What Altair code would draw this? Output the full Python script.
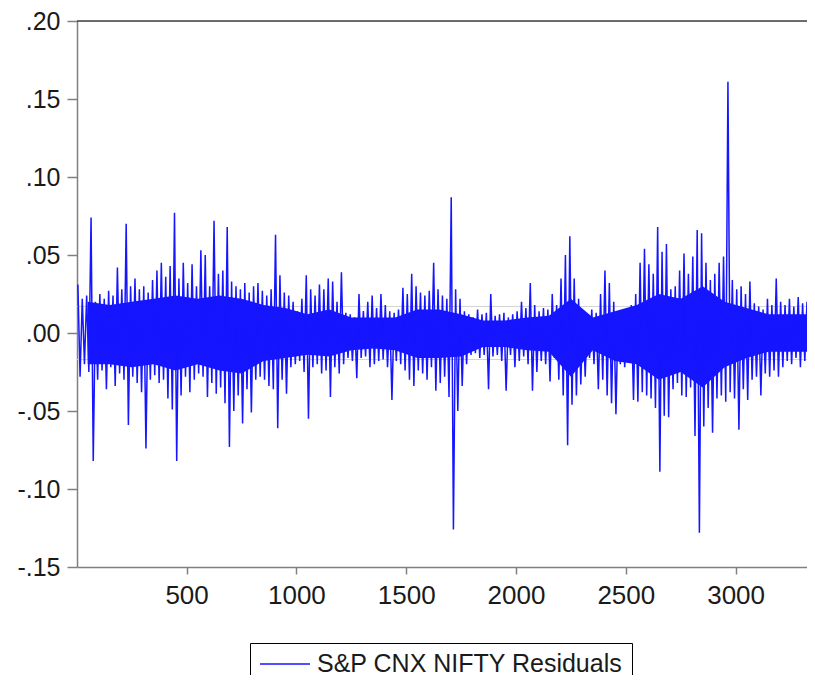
import altair as alt
import pandas as pd

# Envelope of the residual series, in thousandths,
# one high and one low reading for every block of 20 observations.
upper = [31, 22, 24, 74, 20, 25, 22, 27, 24, 42,
         28, 70, 30, 35, 28, 30, 26, 34, 40, 45,
         36, 43, 77, 35, 45, 32, 44, 30, 53, 50,
         30, 72, 38, 40, 68, 33, 30, 28, 32, 26,
         30, 32, 27, 24, 28, 63, 37, 26, 24, 20,
         14, 22, 37, 28, 24, 31, 28, 35, 33, 20,
         39, 13, 12, 10, 25, 14, 20, 24, 16, 25,
         18, 14, 13, 15, 29, 25, 38, 30, 26, 24,
         27, 45, 28, 24, 22, 87, 28, 22, 14, 12,
         10, 15, 12, 13, 25, 11, 12, 13, 10, 12,
         14, 20, 16, 32, 18, 14, 16, 15, 25, 18,
         35, 50, 62, 35, 22, 14, 12, 15, 13, 25,
         40, 32, 20, 14, 12, 15, 18, 25, 45, 54,
         44, 38, 68, 52, 57, 28, 30, 40, 51, 38,
         49, 66, 64, 45, 34, 38, 45, 49, 161, 34,
         28, 30, 25, 33, 19, 17, 15, 22, 18, 35,
         20, 18, 22, 17, 23, 19, 20, 16]
lower = [-28, -20, -25, -82, -30, -24, -36, -22, -34, -26,
         -30, -59, -28, -32, -38, -74, -30, -27, -32, -30,
         -42, -49, -82, -40, -28, -38, -30, -26, -28, -41,
         -32, -39, -35, -45, -73, -50, -40, -58, -36, -51,
         -30, -28, -30, -34, -36, -61, -30, -39, -22, -20,
         -18, -25, -55, -22, -20, -26, -24, -41, -22, -26,
         -20, -16, -18, -29, -16, -15, -22, -20, -18, -17,
         -22, -43, -18, -20, -24, -30, -34, -24, -26, -30,
         -22, -37, -32, -28, -41, -126, -50, -34, -20, -14,
         -13, -16, -14, -36, -15, -14, -18, -37, -14, -22,
         -18, -15, -20, -37, -25, -18, -20, -31, -16, -30,
         -40, -72, -46, -40, -33, -28, -16, -20, -36, -30,
         -40, -45, -52, -20, -22, -18, -43, -44, -38, -40,
         -42, -48, -89, -53, -54, -36, -32, -40, -41, -35,
         -66, -128, -60, -48, -64, -42, -40, -44, -38, -42,
         -62, -36, -43, -30, -28, -40, -26, -28, -24, -28,
         -22, -18, -20, -16, -22, -18, -20, -16]

# Solid core of the band, read every 100 observations (thousandths).
core_hi = [20, 18, 20, 22, 24, 22, 24, 22, 18, 16, 12, 15, 10, 10, 10, 15, 15,
           12, 8, 8, 10, 11, 22, 10, 14, 18, 25, 22, 30, 20, 16, 12, 12, 12]
core_lo = [-20, -20, -22, -20, -24, -20, -24, -26, -18, -16, -14, -15, -11,
           -10, -11, -16, -16, -15, -9, -9, -11, -12, -28, -11, -18, -20, -30,
           -25, -35, -22, -16, -12, -12, -12]

series_name = "S&P CNX NIFTY Residuals"
block = 20
core_block = 100
band_levels = [0.017, -0.017]
x_ticks = [500, 1000, 1500, 2000, 2500, 3000]
y_ticks = [-0.15, -0.10, -0.05, 0.0, 0.05, 0.10, 0.15, 0.20]

rows = []
for i, (u, l) in enumerate(zip(upper, lower)):
    rows.append({"t": block * i + 5, "v": u / 1000.0, "s": series_name})
    rows.append({"t": block * i + 15, "v": l / 1000.0, "s": series_name})
df = pd.DataFrame(rows)

core_df = pd.DataFrame({
    "t": [core_block * k + 50 for k in range(len(core_hi))],
    "hi": [h / 1000.0 for h in core_hi],
    "lo": [l / 1000.0 for l in core_lo],
})

W, H = 730, 546
FONT = "Liberation Sans"
TXT = "#1a1a1a"
AX = "#808080"
BLUE = "#1515ff"

xscale = alt.Scale(domain=[1, 3325], nice=False, zero=False)
yscale = alt.Scale(domain=[-0.15, 0.20], nice=False, zero=False)

xaxis = alt.Axis(values=x_ticks, title=None, grid=False, tickSize=7,
                 format="d",
                 labelFontSize=26, labelFont=FONT, labelColor=TXT,
                 labelPadding=8, domainColor=AX, tickColor=AX,
                 domainWidth=1.5, tickWidth=1.5, labelFlush=False)
yaxis = alt.Axis(values=y_ticks, title=None, grid=False, tickSize=10,
                 labelFontSize=25, labelFont=FONT, labelColor=TXT,
                 labelPadding=7, domainColor=AX, tickColor=AX,
                 domainWidth=1.5, tickWidth=1.5,
                 labelExpr="replace(replace(format(datum.value, '.2f'), '0.', '.'), '\u2212', '-')")

bands = alt.Chart(pd.DataFrame({"b": band_levels})).mark_rule(
    color="#d4d4d4", strokeWidth=1
).encode(y=alt.Y("b:Q", scale=yscale, axis=yaxis))

core = alt.Chart(core_df).mark_area(color=BLUE, clip=True).encode(
    x=alt.X("t:Q", scale=xscale, axis=xaxis),
    y=alt.Y("hi:Q", scale=yscale, axis=yaxis),
    y2="lo:Q",
)

line = alt.Chart(df).mark_line(strokeWidth=1.5, clip=True).encode(
    x=alt.X("t:Q", scale=xscale, axis=xaxis),
    y=alt.Y("v:Q", scale=yscale, axis=yaxis),
    color=alt.Color("s:N", scale=alt.Scale(range=[BLUE]),
                    legend=alt.Legend(title=None, orient="none",
                                      legendX=173, legendY=622,
                                      symbolType="stroke", symbolSize=2500,
                                      symbolStrokeWidth=1.6, clipHeight=24,
                                      labelFontSize=25, labelFont=FONT,
                                      labelColor=TXT, labelLimit=600,
                                      labelOffset=6, padding=9,
                                      strokeColor="#000000")),
)

top = alt.Chart(pd.DataFrame({"k": [0]})).mark_rule(
    color="#404040", strokeWidth=1.5
).encode(y=alt.value(0), x=alt.value(0), x2=alt.value(W))

chart = alt.layer(bands, core, line, top).properties(
    width=W, height=H,
    autosize=alt.AutoSizeParams(type="none"),
    padding={"left": 69, "top": 13, "right": 0, "bottom": 108},
).configure_view(stroke=None).configure(background="white")

chart.save("out.html", embed_options={"renderer": "svg", "actions": False})
